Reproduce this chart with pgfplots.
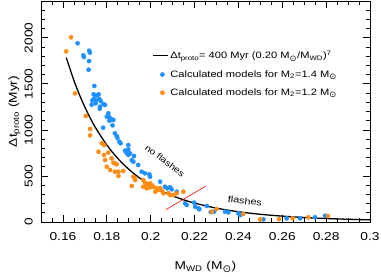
\documentclass[border=0pt]{standalone}
\usepackage{pgfplots}
\pgfplotsset{compat=1.18}
\usepackage{graphicx}
\usepackage{fontspec}
\setmainfont{Liberation Sans}[FakeStretch=1.2]
\newfontfamily\symfont{DejaVu Sans}
\newcommand\sun{{\symfont\scalebox{1.3}{⊙}}}
\definecolor{myblue}{RGB}{30,144,255}
\definecolor{myorange}{RGB}{255,140,20}
\pgfplotsset{
  lineleg/.style={legend image code/.code={\draw[##1] (0bp,0bp) -- (15bp,0bp);}},
  markleg/.style={legend image code/.code={\path[draw=none,fill=none] (0bp,-1bp) rectangle (15bp,1bp); \draw[##1] plot coordinates {(9.7bp,0bp)};}},
}
\pgfplotstableread{
x y
0.1667 1941
0.1693 1810
0.1696 1792
0.1720 1860
0.1723 1839
0.1719 1748
0.1717 1654
0.1743 1477
0.1740 1387
0.1755 1376
0.1763 1387
0.1734 1321
0.1743 1343
0.1751 1317
0.1766 1336
0.1772 1314
0.1731 1274
0.1749 1289
0.1769 1252
0.1784 1281
0.1792 1271
0.1768 1231
0.1807 1180
0.1800 1144
0.1812 1137
0.1822 1115
0.1830 1108
0.1812 1100
0.1826 1050
0.1783 1024
0.1837 963
0.1845 934
0.1848 915
0.1857 872
0.1863 855
0.1898 836
0.1898 789
0.1883 774
0.1891 746
0.1906 746
0.1898 728
0.1924 717
0.1914 673
0.1921 655
0.1943 619
0.1959 546
0.1974 529
0.1994 518
0.1997 492
0.2043 438
0.2065 383
0.2076 366
0.2088 377
0.2096 355
0.2119 329
0.2157 203
0.2164 185
0.2198 210
0.2203 166
0.2218 149
0.2222 138
0.2256 174
0.2274 109
0.2289 112
0.2339 112
0.2354 105
0.2400 94
0.2408 76
0.2514 29
0.2620 40
0.2681 40
0.2749 51
0.2795 68
}\blue
\pgfplotstableread{
x y
0.1615 1853
0.1637 2006
0.1655 1397
0.1704 1151
0.1724 1010
0.1724 941
0.1777 855
0.1788 836
0.1762 763
0.1787 728
0.1807 753
0.1792 673
0.1822 692
0.1830 644
0.1837 637
0.1845 627
0.1800 600
0.1815 565
0.1837 546
0.1853 546
0.1875 554
0.1853 500
0.1921 492
0.1929 474
0.1914 391
0.1929 456
0.1966 456
0.1974 427
0.1982 402
0.1997 420
0.2005 402
0.1966 383
0.1982 366
0.1997 377
0.2012 383
0.2028 366
0.2035 347
0.2043 366
0.2051 340
0.2021 329
0.2058 312
0.2081 312
0.2088 293
0.2103 293
0.2119 312
0.2149 329
0.2278 112
0.2301 141
0.2422 87
0.2499 29
0.2585 31
0.2647 40
0.2719 51
0.2808 65
}\orange
\pgfplotstableread{
x y
0.1615 1786.8
0.165 1537.7
0.1675 1384.1
0.17 1247.7
0.1725 1126.6
0.175 1018.6
0.18 836.3
0.185 690.3
0.19 572.8
0.195 477.6
0.20 400.0
0.205 336.5
0.21 284.3
0.215 241.1
0.22 205.3
0.23 150.4
0.24 111.6
0.25 83.9
0.26 63.7
0.27 48.9
0.28 37.9
0.29 29.7
0.30 23.4
}\fit
\begin{document}
\begin{tikzpicture}
\begin{axis}[
  scale only axis, width=329bp, height=221bp,
  xmin=0.15, xmax=0.30, ymin=0, ymax=2400,
  axis line style={line width=0.8bp},
  every tick/.style={black, line width=0.8bp},
  major tick length=7bp, minor tick length=4bp,
  tick align=inside,
  xtick={0.16,0.18,0.20,0.22,0.24,0.26,0.28,0.30},
  xticklabels={0.16,0.18,0.2,0.22,0.24,0.26,0.28,0.3},
  minor xtick={0.155,0.165,0.17,0.175,0.185,0.19,0.195,0.205,0.21,0.215,0.225,0.23,0.235,0.245,0.25,0.255,0.265,0.27,0.275,0.285,0.29,0.295},
  ytick={0,500,1000,1500,2000},
  minor ytick={100,200,300,400,600,700,800,900,1100,1200,1300,1400,1600,1700,1800,1900,2100,2200,2300,2400},
  /pgf/number format/assume math mode=true,
  /pgf/number format/set thousands separator={},
  ticklabel style={font=\fontsize{11.5}{12}\selectfont, inner sep=0pt},
  xticklabel style={anchor=north}, xticklabel shift=10bp,
  yticklabel style={rotate=90, anchor=south}, yticklabel shift=8bp,
  xlabel={M\textsubscript{WD} (M\textsubscript{\sun})},
  ylabel={Δt\textsubscript{proto} (Myr)},
  label style={font=\fontsize{11.5}{12}\selectfont},
  xlabel style={at={(axis description cs:0.5,-0.217)}, anchor=base},
  ylabel style={at={(axis description cs:-0.073,0.5)}, rotate=0, anchor=base},
  legend style={draw=none, fill=none, at={(rel axis cs:0.337,0.785)}, anchor=north west,
    font=\fontsize{9.3}{11}\selectfont, row sep=6bp, inner sep=0pt},
  legend cell align=left,
]
\addplot[black, line width=1.3bp, smooth, lineleg] table[x=x,y=y] {\fit};
\addlegendentry{Δt\textsubscript{proto}= 400 Myr (0.20 M\textsubscript{\sun}/M\textsubscript{WD})\textsuperscript{7}}
\addplot[only marks, mark=*, mark size=2.1bp, color=myblue, mark options={draw=none, fill=myblue}, markleg] table[x=x,y=y] {\blue};
\addlegendentry{Calculated models for M\textsubscript{2}=1.4 M\textsubscript{\sun}}
\addplot[only marks, mark=*, mark size=2.1bp, color=myorange, mark options={draw=none, fill=myorange}, markleg] table[x=x,y=y] {\orange};
\addlegendentry{Calculated models for M\textsubscript{2}=1.2 M\textsubscript{\sun}}
\addplot[red, line width=0.6bp, forget plot] coordinates {(0.207,135) (0.2252,391)};
\node[rotate=-37, font=\fontsize{8.6}{10}\selectfont] at (axis cs:0.2065,665) {no flashes};
\node[rotate=-6, font=\fontsize{9}{10}\selectfont] at (axis cs:0.243,228) {flashes};
\end{axis}
\path ([xshift=-41bp,yshift=-52bp]current axis.south west) rectangle ([xshift=11bp,yshift=1bp]current axis.north east);
\end{tikzpicture}
\end{document}
